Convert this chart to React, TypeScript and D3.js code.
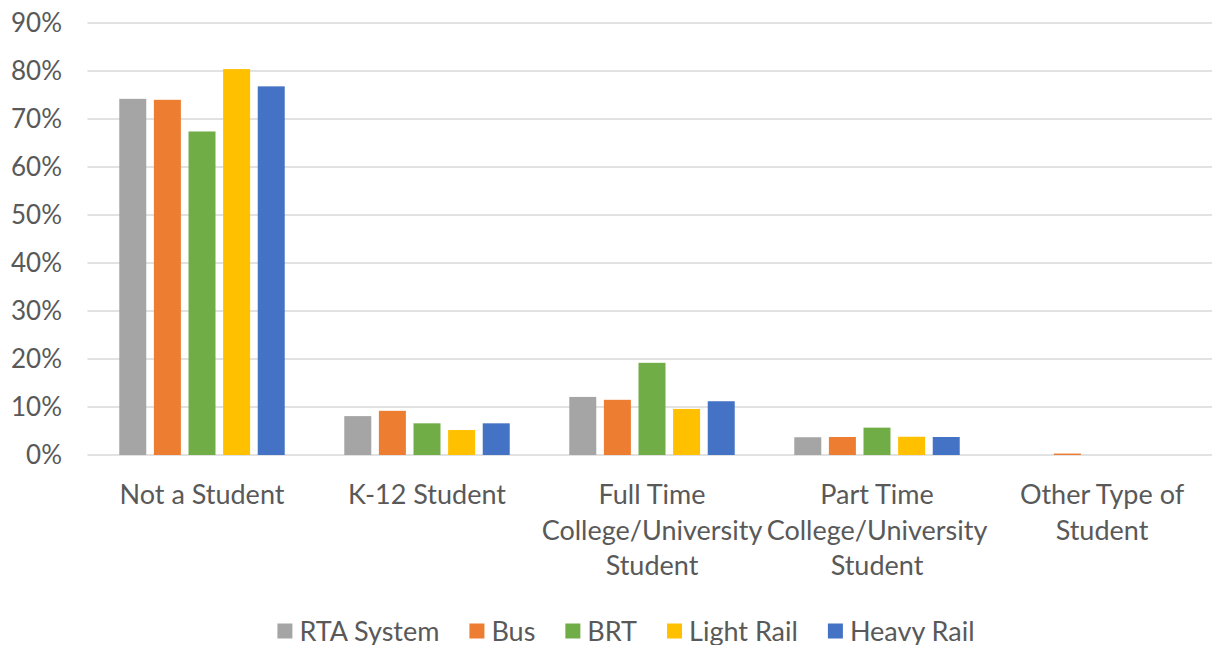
import React, { useEffect, useRef } from "react";
import * as d3 from "d3";

const categories: string[][] = [
  ["Not a Student"],
  ["K-12 Student"],
  ["Full Time", "College/University", "Student"],
  ["Part Time", "College/University", "Student"],
  ["Other Type of", "Student"],
];
const categoryKeys = ["not", "k12", "ft", "pt", "other"];

const seriesNames = ["RTA System", "Bus", "BRT", "Light Rail", "Heavy Rail"];
const seriesColors = ["#A5A5A5", "#ED7D31", "#70AD47", "#FFC000", "#4472C4"];

const rtaSystem = [0.742, 0.081, 0.121, 0.037, 0];
const bus = [0.74, 0.092, 0.115, 0.0375, 0.003];
const brt = [0.674, 0.066, 0.192, 0.057, 0];
const lightRail = [0.804, 0.052, 0.096, 0.038, 0];
const heavyRail = [0.768, 0.066, 0.112, 0.0375, 0];
const seriesValues = [rtaSystem, bus, brt, lightRail, heavyRail];

const yTicks = [0, 0.1, 0.2, 0.3, 0.4, 0.5, 0.6, 0.7, 0.8, 0.9];

const W = 1212;
const H = 645;
const FONT = "Lato, 'Open Sans', sans-serif";
const TEXT = "#595959";

export default function App() {
  const ref = useRef<SVGSVGElement>(null);

  useEffect(() => {
    const svg = d3.select(ref.current);
    svg.selectAll("*").remove();

    const left = 89.5;
    const right = 1214.5;
    const top = 23;
    const bottom = 455;

    const x0 = d3.scaleBand<string>().domain(categoryKeys).range([left, right]);
    const x1 = d3
      .scaleBand<string>()
      .domain(seriesNames)
      .range([0, x0.bandwidth()])
      .paddingInner(0.22)
      .paddingOuter(0.86);
    const y = d3.scaleLinear().domain([0, 0.9]).range([bottom, top]);

    // gridlines
    svg
      .append("g")
      .selectAll("line")
      .data(yTicks)
      .join("line")
      .attr("x1", left - 2)
      .attr("x2", right)
      .attr("y1", (d) => y(d))
      .attr("y2", (d) => y(d))
      .attr("stroke", "#D9D9D9")
      .attr("stroke-width", 1.5);

    // y tick labels
    svg
      .append("g")
      .selectAll("text")
      .data(yTicks)
      .join("text")
      .attr("x", 62)
      .attr("y", (d) => y(d))
      .attr("dy", "0.35em")
      .attr("text-anchor", "end")
      .attr("font-family", FONT)
      .attr("font-size", 26)
      .attr("fill", TEXT)
      .text((d) => d3.format(".0%")(d));

    // bars
    const groups = svg
      .append("g")
      .selectAll("g")
      .data(categoryKeys)
      .join("g")
      .attr("transform", (d) => `translate(${x0(d)},0)`);

    groups
      .selectAll("rect")
      .data((_, ci) => seriesNames.map((s, si) => ({ s, si, v: seriesValues[si][ci] })))
      .join("rect")
      .attr("x", (d) => x1(d.s)!)
      .attr("width", x1.bandwidth())
      .attr("y", (d) => y(d.v))
      .attr("height", (d) => bottom - y(d.v))
      .attr("fill", (d) => seriesColors[d.si]);

    // category labels
    const lab = svg
      .append("g")
      .selectAll("text")
      .data(categories)
      .join("text")
      .attr("text-anchor", "middle")
      .attr("font-family", FONT)
      .attr("font-size", 27)
      .attr("fill", TEXT);
    lab
      .selectAll("tspan")
      .data((d, i) => d.map((t) => ({ t, i })))
      .join("tspan")
      .attr("x", (d) => x0(categoryKeys[d.i])! + x0.bandwidth() / 2)
      .attr("y", (_, j) => 504 + j * 35.5)
      .text((d) => d.t);

    // legend
    const leg = svg.append("g");
    const items = leg
      .selectAll("g")
      .data(seriesNames)
      .join("g");
    items
      .append("rect")
      .attr("width", 15)
      .attr("height", 15)
      .attr("y", 623.5)
      .attr("fill", (_, i) => seriesColors[i]);
    items
      .append("text")
      .attr("x", 22)
      .attr("y", 640.5)
      .attr("font-family", FONT)
      .attr("font-size", 27)
      .attr("fill", TEXT)
      .text((d) => d);
    let cx = 0;
    const gap = 30;
    items.each(function () {
      const g = d3.select(this);
      const w = (g.select("text").node() as SVGTextElement).getComputedTextLength();
      g.attr("transform", `translate(${cx},0)`);
      cx += 22 + w + gap;
    });
    const total = cx - gap;
    leg.attr("transform", `translate(${626 - total / 2},0)`);
  }, []);

  return (
    <svg
      ref={ref}
      width={W}
      height={H}
      style={{ position: "absolute", left: 0, top: 0, background: "#fff" }}
    />
  );
}
